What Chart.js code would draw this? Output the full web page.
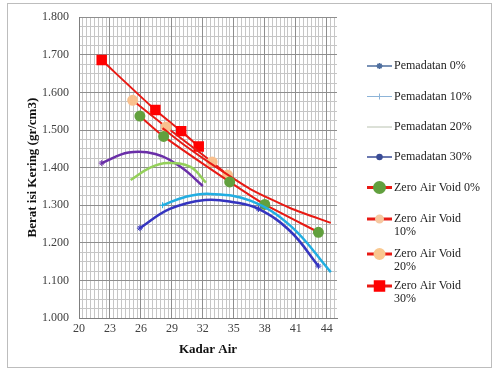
<!DOCTYPE html>
<html><head><meta charset="utf-8">
<script src="https://cdn.jsdelivr.net/npm/chart.js@4/dist/chart.umd.min.js"></script>
<style>html,body{margin:0;padding:0;background:#fff;}canvas{display:block;}</style>
</head><body>
<canvas id="c" width="493" height="370"></canvas>
<script>
// ---- data ----
const seriesNames = ["Pemadatan 0%","Pemadatan 10%","Pemadatan 20%","Pemadatan 30%",
  "Zero Air Void 0%","Zero Air Void 10%","Zero Air Void 20%","Zero Air Void 30%"];
const xTickValues = [20,23,26,29,32,35,38,41,44];
const yTickValues = [1.0,1.1,1.2,1.3,1.4,1.5,1.6,1.7,1.8];
const xTitle = "Kadar Air";
const yTitle = "Berat isi Kering (gr/cm3)";

const p0X  = [25.9, 28.8, 32.2, 35.0, 37.4, 40.5, 43.2];
const p0Y  = [1.239, 1.290, 1.314, 1.308, 1.290, 1.230, 1.138];
const p10X = [28.1, 30.3, 32.7, 36.6, 40.5, 44.4];
const p10Y = [1.300, 1.322, 1.330, 1.312, 1.245, 1.122];
const p20X = [25.0, 26.9, 28.6, 30.8, 32.3];
const p20Y = [1.367, 1.400, 1.412, 1.402, 1.360];
const p30X = [22.2, 24.8, 27.4, 29.9, 32.0];
const p30Y = [1.412, 1.440, 1.436, 1.401, 1.351];

const z0X  = [25.9, 28.2, 34.6, 38.0, 43.2];
const z0Y  = [1.537, 1.483, 1.362, 1.302, 1.228];
const z10X = [28.1, 30.3, 32.7, 36.6, 40.5, 44.4];
const z10Y = [1.505, 1.458, 1.412, 1.343, 1.292, 1.253];
const z20X = [25.2, 28.45, 32.9, 34.4];
const z20Y = [1.579, 1.508, 1.415, 1.380];
const z30X = [22.2, 27.4, 29.9, 31.6];
const z30Y = [1.686, 1.553, 1.497, 1.456];

// ---- build ----
const pts = (xs, ys) => xs.map((x, i) => ({x, y: ys[i]}));
const serif = "'Liberation Serif','Times New Roman',serif";
const RED = '#E81A14';

const datasets = [
  {label: seriesNames[0], data: pts(p0X, p0Y), borderColor: '#3535C0', backgroundColor: '#3535C0',
   borderWidth: 2.5, pointStyle: 'star', pointRadius: [3,0,0,0,3,0,3], pointBorderWidth: 1, tension: 0.4},
  {label: seriesNames[1], data: pts(p10X, p10Y), borderColor: '#22AEE2', backgroundColor: '#22AEE2',
   borderWidth: 2.5, pointStyle: 'cross', pointRadius: [3,0,0,0,0,0], pointBorderWidth: 1, tension: 0.4},
  {label: seriesNames[2], data: pts(p20X, p20Y), borderColor: '#94D05A', backgroundColor: '#94D05A',
   borderWidth: 2.5, pointRadius: 0, tension: 0.4},
  {label: seriesNames[3], data: pts(p30X, p30Y), borderColor: '#6A2FA8', backgroundColor: '#6A2FA8',
   borderWidth: 2.5, pointStyle: 'star', pointRadius: [3,0,0,0,0], pointBorderWidth: 1, tension: 0.4},
  {label: seriesNames[4], data: pts(z0X, z0Y), borderColor: RED, backgroundColor: '#62A03E',
   pointBorderColor: '#62A03E', borderWidth: 2, pointStyle: 'circle', pointRadius: 4.5, tension: 0.2},
  {label: seriesNames[5], data: pts(z10X, z10Y), borderColor: RED, backgroundColor: '#F6B07A',
   pointBorderColor: '#F6B07A', borderWidth: 2, pointStyle: 'circle', pointRadius: 0, tension: 0.2},
  {label: seriesNames[6], data: pts(z20X, z20Y), borderColor: RED, backgroundColor: '#F9C08E',
   pointBorderColor: '#F9C08E', borderWidth: 2, pointStyle: 'circle', pointRadius: 4.5, tension: 0.2},
  {label: seriesNames[7], data: pts(z30X, z30Y), borderColor: RED, backgroundColor: '#FF0000',
   pointBorderColor: '#FF0000', borderWidth: 2, pointStyle: 'rect', pointRadius: 6, tension: 0.2}
];
datasets.forEach(d => { d.showLine = true; d.fill = false; });

const rangeTicks = (a, b, s) => { const t = []; for (let i = 0; a + i * s <= b + 1e-9; i++) t.push({value: +(a + i * s).toFixed(4)}); return t; };

const frame = {
  id: 'frame',
  beforeDraw(chart) {
    const c = chart.ctx; c.save();
    c.fillStyle = '#fff'; c.fillRect(0, 0, chart.width, chart.height);
    c.strokeStyle = '#BDBDBD'; c.lineWidth = 1; c.strokeRect(7.5, 3.5, 484, 364);
    c.restore();
  }
};

const sideLegend = {
  id: 'sideLegend',
  afterDraw(chart, args, o) {
    const c = chart.ctx; c.save();
    c.font = o.font; c.textBaseline = 'middle';
    chart.data.datasets.forEach((ds, i) => {
      const st = o.styles[i], y = o.rows[i];
      c.strokeStyle = st.color; c.lineWidth = st.width;
      c.beginPath(); c.moveTo(o.x0, y); c.lineTo(o.x1, y); c.stroke();
      if (st.marker) {
        c.fillStyle = st.fill; c.strokeStyle = st.stroke || st.fill;
        Chart.helpers.drawPoint(c, {pointStyle: st.marker, radius: st.r, rotation: 0, borderWidth: 1}, (o.x0 + o.x1) / 2, y);
      }
      const words = ds.label.split(' '); const lines = []; let cur = '';
      words.forEach(w => { const t = cur ? cur + ' ' + w : w; if (c.measureText(t).width > o.maxWidth && cur) { lines.push(cur); cur = w; } else cur = t; });
      lines.push(cur);
      c.fillStyle = o.textColor;
      lines.forEach((ln, k) => c.fillText(ln, o.tx, y + k * o.lineH));
    });
    c.restore();
  }
};

new Chart(document.getElementById('c'), {
  type: 'scatter',
  data: {datasets},
  plugins: [frame, sideLegend],
  options: {
    responsive: false, animation: false, devicePixelRatio: 1,
    layout: {padding: {left: 0, right: 156, top: 17, bottom: 0}},
    plugins: {
      legend: {display: false}, tooltip: {enabled: false},
      sideLegend: {
        font: "12px " + serif, textColor: '#222', x0: 367, x1: 392, tx: 394, maxWidth: 92, lineH: 13,
        rows: [66, 96.5, 127, 157, 187.5, 219, 254, 286],
        styles: [
          {color: '#4E6E9E', width: 1.5, marker: 'star', r: 3, fill: '#4E6E9E'},
          {color: '#8DB4D8', width: 1, marker: 'cross', r: 3, fill: '#8DB4D8'},
          {color: '#B9C2B0', width: 1},
          {color: '#3A4C96', width: 1.5, marker: 'circle', r: 2.5, fill: '#3A4C96'},
          {color: RED, width: 3, marker: 'circle', r: 5, fill: '#62A03E'},
          {color: RED, width: 3, marker: 'circle', r: 3, fill: '#F6C8A0'},
          {color: RED, width: 3, marker: 'circle', r: 4.5, fill: '#F9C890'},
          {color: RED, width: 3, marker: 'rect', r: 6, fill: '#FF0000'}
        ]
      }
    },
    scales: {
      xMinor: {type: 'linear', position: 'bottom', min: 20, max: 45, weight: 1,
        afterBuildTicks: s => { s.ticks = rangeTicks(20, 45, 0.375); },
        ticks: {display: false}, grid: {color: '#C6C6C6', drawTicks: false}, border: {display: false},
        afterFit: s => { s.height = 0; }},
      yMinor: {type: 'linear', position: 'left', min: 1.0, max: 1.8, weight: 1,
        afterBuildTicks: s => { s.ticks = rangeTicks(1.0, 1.8, 0.025); },
        ticks: {display: false}, grid: {color: '#C6C6C6', drawTicks: false}, border: {display: false},
        afterFit: s => { s.width = 0; }},
      x: {type: 'linear', position: 'bottom', min: 20, max: 45, weight: 0,
        afterBuildTicks: s => { s.ticks = xTickValues.map(v => ({value: v})); },
        ticks: {autoSkip: false, maxRotation: 0, padding: 4, color: '#404040', font: {family: serif, size: 12}},
        grid: {color: '#8E8E8E', drawTicks: false}, border: {color: '#7F7F7F'},
        title: {display: true, text: xTitle, color: '#111', font: {family: serif, size: 13, weight: 'bold'}, padding: {top: 0, bottom: 13}},
        afterFit: s => { s.height = 52; }},
      y: {type: 'linear', position: 'left', min: 1.0, max: 1.8, weight: 0,
        afterBuildTicks: s => { s.ticks = yTickValues.map(v => ({value: v})); },
        ticks: {autoSkip: false, padding: 10, color: '#404040', font: {family: serif, size: 12}, callback: v => v.toFixed(3)},
        grid: {color: '#8E8E8E', drawTicks: false}, border: {color: '#7F7F7F'},
        title: {display: true, text: yTitle, color: '#111', font: {family: serif, size: 13, weight: 'bold'}, padding: {top: 25, bottom: 0}},
        afterFit: s => { s.width = 79; }}
    }
  }
});
</script>
</body></html>
